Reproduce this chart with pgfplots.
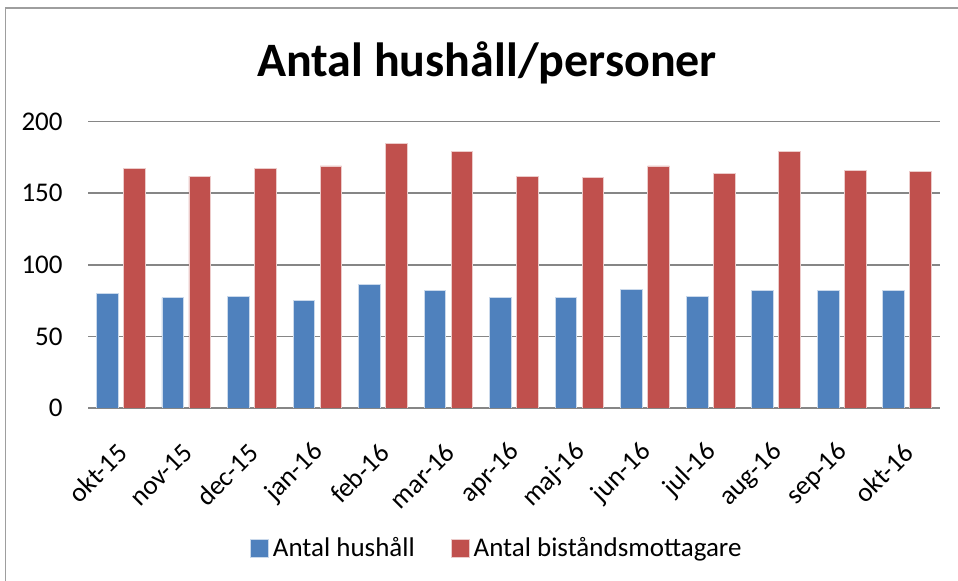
\documentclass[border=0pt]{standalone}
\usepackage{pgfplots}
\pgfplotsset{compat=1.18}
\usepackage{fontspec}
\setmainfont{Carlito}
\definecolor{xblue}{HTML}{4F81BD}
\definecolor{xred}{HTML}{C0504D}
\definecolor{xgrid}{HTML}{868686}
\begin{document}
\begin{tikzpicture}
\useasboundingbox (0,0) rectangle (479pt,290.5pt);
\draw[color=xgrid!80, line width=0.8pt] (2.75pt,-20pt) -- (2.75pt,286.5pt) -- (500pt,286.5pt);
\node[anchor=base, font=\bfseries\fontsize{24}{28}\selectfont] at (243.5pt,252pt) {Antal hushåll/personer};
\begin{axis}[
  at={(44pt,86.5pt)}, anchor=south west,
  width=426pt, height=143.2pt, scale only axis,
  ymin=0, ymax=200, ytick={0,50,100,150,200},
  xmin=-0.5, xmax=12.5,
  xtick={0,...,12},
  xticklabels={okt-15,nov-15,dec-15,jan-16,feb-16,mar-16,apr-16,maj-16,jun-16,jul-16,aug-16,sep-16,okt-16},
  major tick length=0pt,
  axis x line*=bottom, axis y line*=left,
  x axis line style={xgrid, line width=0.8pt, -},
  y axis line style={draw=none},
  ymajorgrids, grid style={xgrid, line width=0.8pt},
  /pgf/number format/assume math mode=true,
  tick label style={font=\fontsize{13.5}{16}\selectfont},
  yticklabel style={anchor=east, inner sep=0pt, xshift=-12.5pt},
  xticklabel style={xshift=1pt, yshift=-20pt, rotate=45, anchor=east, inner sep=0pt},
  legend style={at={(0.481,-0.489)}, anchor=center, draw=none, legend columns=2,
    font=\fontsize{13.5}{16}\selectfont,
    /tikz/every even column/.append style={column sep=16pt}},
  legend image code/.code={\fill[#1] (0pt,-4.5pt) rectangle (9pt,4.5pt);},
]
\addplot[ybar, bar width=10.85pt, bar shift=-6.75pt, fill=xblue, draw=white!70!xblue, line width=0.4pt]
  coordinates {(0,80) (1,77) (2,78) (3,75) (4,86) (5,82) (6,77) (7,77) (8,83) (9,78) (10,82) (11,82) (12,82)};
\addlegendentry{Antal hushåll}
\addplot[ybar, bar width=10.85pt, bar shift=6.75pt, fill=xred, draw=white!70!xred, line width=0.4pt]
  coordinates {(0,167) (1,162) (2,167) (3,169) (4,185) (5,179) (6,162) (7,161) (8,169) (9,164) (10,179) (11,166) (12,165)};
\addlegendentry{Antal biståndsmottagare}
\end{axis}
\end{tikzpicture}
\end{document}
